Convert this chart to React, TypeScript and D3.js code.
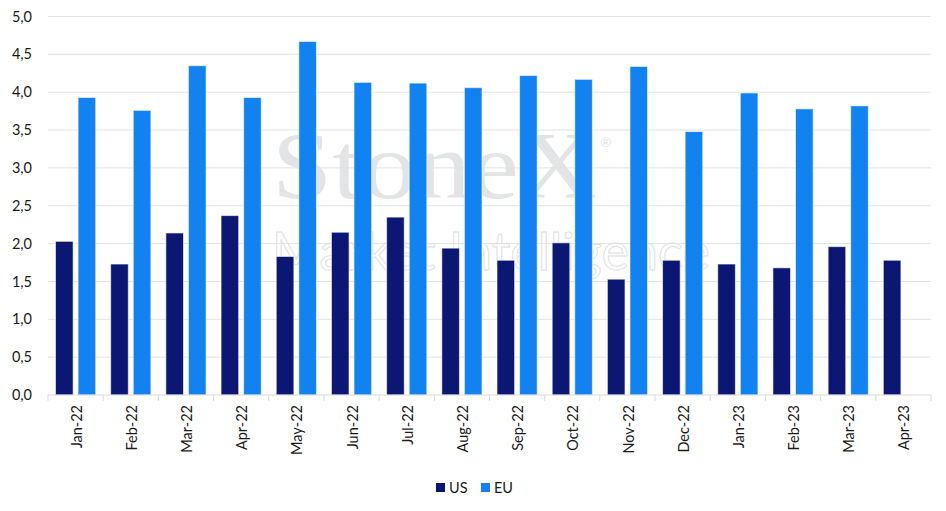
import { useEffect, useRef } from 'react';
import * as d3 from 'd3';

const width = 946;
const height = 511;
const [mt, mr, mb, ml] = [16.5, 15, 116, 48];

const months = [
    'Jan-22', 'Feb-22', 'Mar-22', 'Apr-22', 'May-22', 'Jun-22', 'Jul-22', 'Aug-22',
    'Sep-22', 'Oct-22', 'Nov-22', 'Dec-22', 'Jan-23', 'Feb-23', 'Mar-23', 'Apr-23'
];
const usValues = [2.03, 1.73, 2.14, 2.37, 1.83, 2.15, 2.35, 1.94, 1.78, 2.01, 1.53, 1.78, 1.73, 1.68, 1.96, 1.78];
const euValues = [3.93, 3.76, 4.35, 3.93, 4.67, 4.13, 4.12, 4.06, 4.22, 4.17, 4.34, 3.48, 3.99, 3.78, 3.82, null];
const yTicks = [0, 0.5, 1, 1.5, 2, 2.5, 3, 3.5, 4, 4.5, 5];

const series = [
    { name: 'US', color: '#0c1673', values: usValues },
    { name: 'EU', color: '#1282f0', values: euValues }
];

const font = 'Lato, "Noto Sans", sans-serif';

export default function App() {
    const ref = useRef<SVGSVGElement>(null);

    useEffect(() => {
        const svg = d3.select(ref.current);
        svg.selectAll('*').remove();

        const x = d3.scaleBand().domain(months).range([ml, width - mr]);
        const inner = d3.scaleBand().domain(series.map((s) => s.name)).range([7.5, x.bandwidth() - 7.5]).paddingInner(0.22);
        const y = d3.scaleLinear().domain([0, 5]).range([height - mb, mt]);

        // watermark
        const wm = svg.append('g').attr('fill', '#e3e4e5');
        wm.append('text')
            .attr('x', 272)
            .attr('y', 198)
            .attr('font-family', '"Liberation Serif", serif')
            .attr('font-size', 96)
            .attr('textLength', 325)
            .attr('lengthAdjust', 'spacingAndGlyphs')
            .text('StoneX');
        wm.append('text').attr('x', 600).attr('y', 147).attr('font-family', font).attr('font-size', 14).text('®');
        wm.append('text')
            .attr('x', 272)
            .attr('y', 270)
            .attr('font-family', font)
            .attr('font-size', 52)
            .attr('fill', 'none')
            .attr('stroke', '#e4e5e6')
            .attr('stroke-width', 1.3)
            .attr('textLength', 438)
            .attr('lengthAdjust', 'spacingAndGlyphs')
            .text('Market Intelligence');

        // grid
        svg.append('g')
            .selectAll('line')
            .data(yTicks.filter((t) => t > 0))
            .join('line')
            .attr('x1', ml)
            .attr('x2', width - mr)
            .attr('y1', (d) => y(d))
            .attr('y2', (d) => y(d))
            .attr('stroke', '#e2e2e2')
            .attr('stroke-width', 1);

        // y labels
        svg.append('g')
            .selectAll('text')
            .data(yTicks)
            .join('text')
            .attr('x', 32)
            .attr('y', (d) => y(d))
            .attr('dy', '0.35em')
            .attr('text-anchor', 'end')
            .attr('font-family', font)
            .attr('font-size', 14.5)
            .attr('fill', '#1a1a1a')
            .text((d) => d3.format('.1f')(d).replace('.', ','));

        // bars
        const groups = svg.append('g')
            .selectAll('g')
            .data(series)
            .join('g')
            .attr('fill', (s) => s.color);
        groups.selectAll('rect')
            .data((s) => s.values.map((v, i) => ({ v, i, name: s.name })).filter((d) => d.v !== null))
            .join('rect')
            .attr('x', (d) => (x(months[d.i]) ?? 0) + (inner(d.name) ?? 0))
            .attr('width', inner.bandwidth())
            .attr('y', (d) => y(d.v as number))
            .attr('height', (d) => y(0) - y(d.v as number))
            .attr('stroke', 'rgba(255,255,255,0.6)')
            .attr('stroke-width', 1);

        // x axis
        const xAxis = svg.append('g').attr('transform', `translate(0,${y(0)})`);
        xAxis.append('line').attr('x1', ml).attr('x2', width - mr).attr('stroke', '#d9d9d9');
        xAxis.selectAll('line.tick')
            .data([...months.map((m) => x(m) ?? 0), width - mr])
            .join('line')
            .attr('class', 'tick')
            .attr('x1', (d) => d)
            .attr('x2', (d) => d)
            .attr('y1', 0)
            .attr('y2', 6)
            .attr('stroke', '#d9d9d9');
        xAxis.selectAll('text')
            .data(months)
            .join('text')
            .attr('transform', (m) => `translate(${(x(m) ?? 0) + x.bandwidth() / 2 + 1},10) rotate(-90)`)
            .attr('text-anchor', 'end')
            .attr('dy', '0.35em')
            .attr('font-family', font)
            .attr('font-size', 14.5)
            .attr('fill', '#1a1a1a')
            .text((m) => m);

        // legend
        const legend = svg.append('g').attr('transform', 'translate(436,488)');
        const items = legend.selectAll('g').data(series).join('g').attr('transform', (_d, i) => `translate(${i * 45},0)`);
        items.append('rect').attr('x', 0).attr('y', -5).attr('width', 9).attr('height', 9).attr('fill', (s) => s.color);
        items.append('text')
            .attr('x', 13)
            .attr('y', 0)
            .attr('dy', '0.35em')
            .attr('font-family', font)
            .attr('font-size', 14.5)
            .attr('fill', '#1a1a1a')
            .text((s) => s.name);
    }, []);

    return (
        <div style={{ position: 'absolute', left: 0, top: 0, background: '#fff' }}>
            <svg ref={ref} width={width} height={height} />
        </div>
    );
}
